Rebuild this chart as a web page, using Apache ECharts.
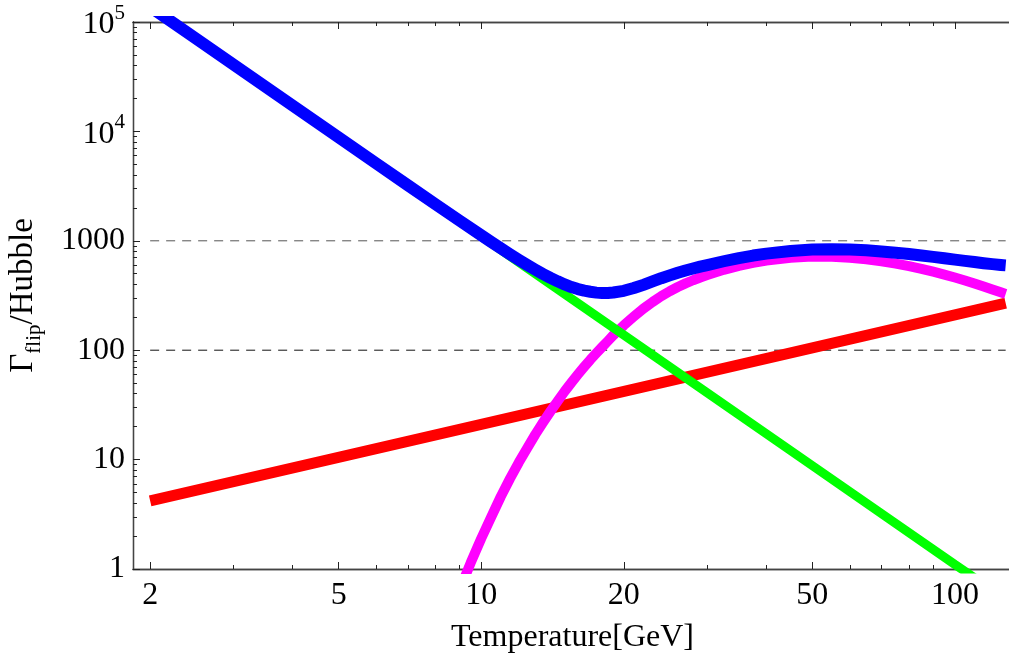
<!DOCTYPE html>
<html>
<head>
<meta charset="utf-8">
<script src="https://cdn.jsdelivr.net/npm/echarts@6/dist/echarts.min.js"></script>
<style>
html,body{margin:0;padding:0;background:#fff;}
#chart{width:1009px;height:653px;}
</style>
</head>
<body>
<div id="chart"></div>
<script>
// ---- data (Temperature [GeV] vs Gamma_flip/Hubble) ----
const T_BLUE  = [2, 2.5, 3, 4, 5, 6, 7, 8, 9, 10, 10.5, 11, 11.5, 12, 12.5, 13, 13.5, 14, 14.5, 15, 15.5, 16, 16.5, 17, 17.5, 18, 18.5, 19, 20, 21, 22, 23, 24, 25, 26, 27, 28, 29, 30, 32.5, 35, 37.5, 40, 45, 50, 55, 60, 65, 70, 75, 80, 85, 90, 95, 100, 105, 110, 115, 120, 125, 128];
const BLUE    = [137500, 70400, 40750, 17200, 8810, 5106, 3222, 2165, 1528, 1123, 975, 854, 754, 671, 602, 545, 497, 458, 426, 399, 378, 362, 350, 342, 336, 333, 334, 337, 349, 370, 396, 425, 455, 483, 510, 535, 558, 580, 600, 650, 695, 733, 764, 808, 831, 837, 831, 818, 799, 779, 757, 735, 713, 692, 673, 655, 639, 624, 612, 601, 596];

const T_MAGENTA = [9.2, 9.5, 10, 10.5, 11, 11.5, 12, 12.5, 13, 13.5, 14, 14.5, 15, 15.5, 16, 16.5, 17, 17.5, 18, 18.5, 19, 20, 21, 22, 23, 24, 25, 26, 27, 28, 29, 30, 32.5, 35, 37.5, 40, 45, 50, 55, 60, 65, 70, 75, 80, 85, 90, 95, 100, 105, 110, 115, 120, 125, 128];
const MAGENTA   = [0.81, 1.14, 1.9, 3.0, 4.6, 6.7, 9.4, 12.7, 16.9, 21.8, 27.6, 34.3, 42, 50.5, 60, 70.5, 82, 94, 107, 121, 137, 169, 203, 240, 276, 312, 346, 378, 408, 436, 462, 486, 543, 590, 628, 660, 701, 717, 715, 700, 677, 649, 619, 587, 555, 522, 491, 462, 434, 407, 382, 359, 338, 327];

const T_GREEN = [2, 5, 10, 20, 50, 100, 110];
const GREEN   = [137500, 8800, 1100, 137.5, 8.8, 1.1, 0.83];

const T_RED = [2, 10, 50, 128];
const RED   = [4.2, 21, 105, 269];

const T_REF = [2, 128];
const REF_LEVELS = [1000, 100];

const X_TICK_LABELS = [2, 5, 10, 20, 50, 100];
const X_MINOR_TICKS = [3, 4, 6, 7, 8, 9, 30, 40, 60, 70, 80, 90];
const Y_TICK_LABELS = [1, 10, 100, 1000, 10000, 100000];
const Y_MINOR_TICKS = [2,3,4,5,6,7,8,9, 20,30,40,50,60,70,80,90, 200,300,400,500,600,700,800,900, 2000,3000,4000,5000,6000,7000,8000,9000, 20000,30000,40000,50000,60000,70000,80000,90000];

const X_NAME = 'Temperature[GeV]';
// -----------------------------------------------------------------------------

function zip(xs, ys) { return xs.map((x, i) => [x, ys[i]]); }

const FONT = 'Liberation Serif';
const X_MIN = 1.84, X_MAX = 132;
const AX = '#444';

function xAx(position, ticks, len, showLabel, extra) {
  return Object.assign({
    type: 'log', logBase: 10, min: X_MIN, max: X_MAX, position: position,
    axisLine: { show: true, onZero: false, lineStyle: { color: AX, width: 1.3 } },
    axisTick: { show: true, inside: true, length: len, customValues: ticks, lineStyle: { color: '#222', width: 1 } },
    axisLabel: showLabel ? {
      show: true, customValues: ticks, margin: 11,
      fontFamily: FONT, fontSize: 32, color: '#000'
    } : { show: false },
    splitLine: { show: false }, minorTick: { show: false }
  }, extra || {});
}

function yAx(ticks, len, showLabel, extra) {
  return Object.assign({
    type: 'log', logBase: 10, min: 1, max: 100000, position: 'left',
    axisLine: { show: true, onZero: false, lineStyle: { color: AX, width: 1.3 } },
    axisTick: { show: true, inside: true, length: len, customValues: ticks, lineStyle: { color: '#222', width: 1 } },
    axisLabel: showLabel ? {
      show: true, customValues: ticks, margin: 8,
      fontFamily: FONT, fontSize: 32, color: '#000',
      formatter: function (v) {
        const e = Math.round(Math.log10(v));
        if (e >= 4) return '{b|10}{s|' + e + '}';
        return '{b|' + String(Math.round(v)) + '}';
      },
      rich: {
        b: { fontFamily: FONT, fontSize: 32, color: '#000', lineHeight: 32, verticalAlign: 'bottom' },
        s: { fontFamily: FONT, fontSize: 21, color: '#000', lineHeight: 38, verticalAlign: 'top' }
      }
    } : { show: false },
    splitLine: { show: false }, minorTick: { show: false }
  }, extra || {});
}

const chart = echarts.init(document.getElementById('chart'), null, { renderer: 'canvas' });

const lineBase = { type: 'line', xAxisIndex: 0, yAxisIndex: 0, showSymbol: false, symbol: 'none', smooth: false, animation: false, clip: true };

const series = [];
REF_LEVELS.forEach((lv, i) => {
  series.push(Object.assign({}, lineBase, {
    name: 'ref' + lv,
    data: zip(T_REF, T_REF.map(() => lv)),
    lineStyle: { color: i === 0 ? '#555' : '#111', width: 1, type: [9, 7] },
    z: 1
  }));
});
series.push(Object.assign({}, lineBase, { name: 'red', data: zip(T_RED, RED), lineStyle: { color: '#ff0000', width: 11, cap: 'butt' }, z: 2 }));
series.push(Object.assign({}, lineBase, { name: 'magenta', data: zip(T_MAGENTA, MAGENTA), lineStyle: { color: '#ff00ff', width: 10, cap: 'butt', join: 'round' }, z: 3 }));
series.push(Object.assign({}, lineBase, { name: 'green', data: zip(T_GREEN, GREEN), lineStyle: { color: '#00ff00', width: 9, cap: 'butt' }, z: 4 }));
series.push(Object.assign({}, lineBase, { name: 'blue', data: zip(T_BLUE, BLUE), lineStyle: { color: '#0000ff', width: 12, cap: 'butt', join: 'round' }, z: 5 }));

chart.setOption({
  backgroundColor: '#ffffff',
  animation: false,
  grid: { left: 133, top: 22, right: -3, bottom: 84, containLabel: false, outerBoundsMode: 'none' },
  xAxis: [
    xAx('bottom', X_TICK_LABELS, 7, true, {
      name: X_NAME, nameLocation: 'middle', nameGap: 53,
      nameTextStyle: { fontFamily: FONT, fontSize: 32, color: '#000', verticalAlign: 'top' }
    }),
    xAx('bottom', X_MINOR_TICKS, 4, false),
    xAx('top', X_TICK_LABELS, 7, false),
    xAx('top', X_MINOR_TICKS, 4, false)
  ],
  yAxis: [
    yAx(Y_TICK_LABELS, 7, true, {
      name: '{g|Γ}{s|flip}{g|/Hubble}', nameLocation: 'middle', nameGap: 88, nameRotate: 90,
      nameTextStyle: {
        fontFamily: FONT, fontSize: 33, color: '#000',
        rich: {
          g: { fontFamily: FONT, fontSize: 33, color: '#000', lineHeight: 38, verticalAlign: 'top' },
          s: { fontFamily: FONT, fontSize: 21, color: '#000', lineHeight: 24, verticalAlign: 'bottom' }
        }
      }
    }),
    yAx(Y_MINOR_TICKS, 4, false)
  ],
  series: series
});
</script>
</body>
</html>
